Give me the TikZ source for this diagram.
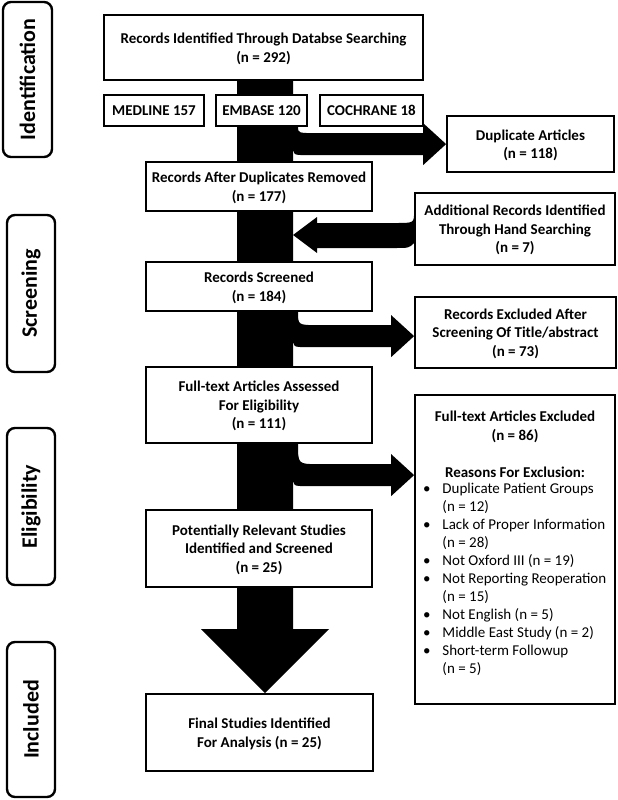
\documentclass[tikz,border=0pt]{standalone}
\usepackage{fontspec}
\setmainfont{Carlito}
\usetikzlibrary{calc}
\pgfdeclarelayer{bg}
\pgfsetlayers{bg,main}

% block arrow from the main bar (under box #1) into box #2, tip #3 below its top
\newcommand{\sidearrow}[3]{%
\fill let \p1 = (barR |- #1.south), \p2 = ($(#2.north west)+(0,#3)$) in
 (\x1,\y1) -- (\x1+5pt,\y1) .. controls (\x1+5pt,\y2+11pt) .. (\x1+25pt,\y2+11pt)
 -- (\x2-23pt,\y2+11pt) -- (\x2-23pt,\y2+21pt) -- (\x2,\y2) -- (\x2-23pt,\y2-21pt)
 -- (\x2-23pt,\y2-11pt) -- (\x1+14pt,\y2-11pt) .. controls (\x1,\y2-11pt) .. (\x1,\y2-1pt) -- cycle;}

\begin{document}
\begin{tikzpicture}[
x=1pt, y=-1pt,
box/.style={draw=black, line width=1.8pt, fill=white, align=center, inner sep=2pt,
  text depth=-2pt, font=\fontsize{15}{18.5}\selectfont\bfseries},
phase/.style={draw=black, line width=2.4pt, fill=white, rounded corners=8pt, rotate=90,
  inner sep=0pt, font=\fontsize{22}{26}\selectfont\bfseries},
]
\useasboundingbox (0,0) rectangle (618,800);

%Phases
\node[phase, minimum width=155, minimum height=49] (ph_ident) at (27.5,79.5) {Identification};
\node[phase, minimum width=157, minimum height=48] (ph_screen) at (31,293.5) {Screening};
\node[phase, minimum width=157, minimum height=48] (ph_elig) at (31,506.5) {Eligibility};
\node[phase, minimum width=155, minimum height=48] (ph_incl) at (31,719.5) {Included};

%Main column
\node[box, minimum width=319, minimum height=65] (db_search) at (263.5,47.5) {Records Identified Through Databse Searching\\(n = 292)};
\node[box, minimum width=100, minimum height=31] (medline) at (154,110.5) {MEDLINE 157};
\node[box, minimum width=91, minimum height=31] (embase) at (261.5,110.5) {EMBASE 120};
\node[box, minimum width=103, minimum height=31] (cochrane) at (371.5,110.5) {COCHRANE 18};
\node[box, minimum width=226, minimum height=49] (after_dup) at (259,186.5) {Records After Duplicates Removed\\(n = 177)};
\node[box, minimum width=226, minimum height=49] (screened) at (259,286.5) {Records Screened\\(n = 184)};
\node[box, minimum width=226, minimum height=76] (full_text) at (259,405) {Full-text Articles Assessed\\For Eligibility\\(n = 111)};
\node[box, minimum width=226, minimum height=77] (relevant) at (259,548.5) {Potentially Relevant Studies\\Identified and Screened\\(n = 25)};
\node[box, minimum width=227, minimum height=77] (final) at (259.5,732.5) {Final Studies Identified\\For Analysis (n = 25)};

%Side column
\node[box, minimum width=167, minimum height=56] (dup) at (530.5,144) {Duplicate Articles\\(n = 118)};
\node[box, minimum width=200, minimum height=72] (hand) at (515,229) {Additional Records Identified\\Through Hand Searching\\(n = 7)};
\node[box, minimum width=201, minimum height=71] (excl_screen) at (515.5,332.5) {Records Excluded After\\Screening Of Title/abstract\\(n = 73)};
\node[box, inner sep=5pt, text depth=, minimum width=200, minimum height=309] (excl_full) at (515,549.5) {%
\begin{minipage}[c][299pt][t]{190pt}
\vspace*{11pt}
\centering
Full-text Articles Excluded\\(n = 86)\\[18.5pt]Reasons For Exclusion:\par
\vspace{3pt}
\raggedright\mdseries\fontsize{15}{18}\selectfont
\begin{tabular}{@{\hspace{3pt}}l@{\hspace{12pt}}l@{}}
\textbullet & Duplicate Patient Groups\\
 & (n = 12)\\
\textbullet & Lack of Proper Information\\
 & (n = 28)\\
\textbullet & Not Oxford III (n = 19)\\
\textbullet & Not Reporting Reoperation\\
 & (n = 15)\\
\textbullet & Not English (n = 5)\\
\textbullet & Middle East Study (n = 2)\\
\textbullet & Short-term Followup\\
 & (n = 5)\\
\end{tabular}
\end{minipage}};

\coordinate (bartop) at (265,80);
\coordinate (bartip) at (265,693);
\coordinate (barR) at (293,80);

\begin{pgfonlayer}{bg}
%Main flow
\fill ($(bartop)+(-28,0)$) -- ($(bartop)+(28,0)$) -- ($(bartip)+(28,-64)$) -- ($(bartip)+(64,-64)$)
 -- (bartip) -- ($(bartip)+(-64,-64)$) -- ($(bartip)+(-28,-64)$) -- cycle;

%Exclusions
\sidearrow{embase}{dup}{29}
\sidearrow{screened}{excl_screen}{40}
\sidearrow{full_text}{excl_full}{81}

%Hand searching
\fill let \p1 = ($(hand.north west)+(0,19)$), \p2 = ($(barR |- hand.west)+(0,6)$) in
 (\x1,\y1) .. controls (\x1,\y2+12pt) .. (\x1-18pt,\y2+12pt) -- (\x2+24pt,\y2+12pt)
 -- (\x2+24pt,\y2+18pt) -- (\x2,\y2) -- (\x2+24pt,\y2-18pt) -- (\x2+24pt,\y2-13pt)
 -- (\x1-20pt,\y2-13pt) .. controls (\x1-5pt,\y2-13pt) .. (\x1,\y2-8pt) -- cycle;
\end{pgfonlayer}
\end{tikzpicture}
\end{document}
